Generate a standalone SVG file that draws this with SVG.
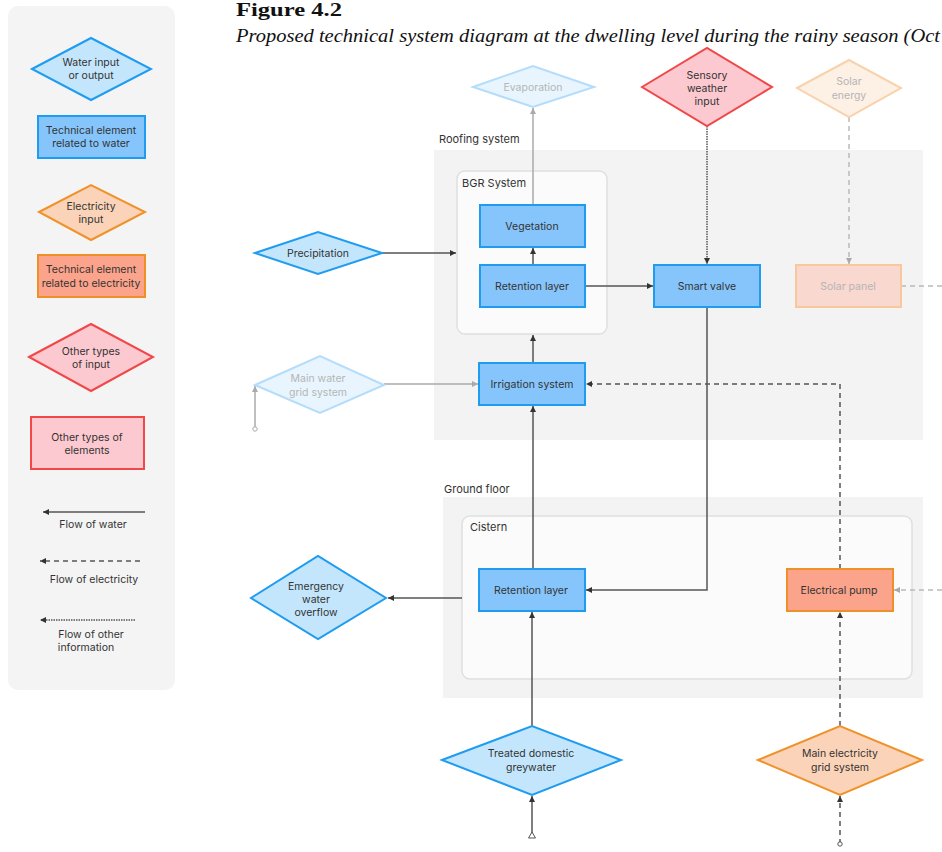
<svg xmlns="http://www.w3.org/2000/svg" width="942" height="852" viewBox="0 0 942 852">
<style>
text{font-family:Inter,"Noto Sans","Liberation Sans",sans-serif;font-size:10.5px;fill:#333}
.c{text-anchor:middle}
.fade{fill:#b5b5b5}
.lbl{font-size:11px;fill:#333}
.wd{fill:#c3e6fc;stroke:#1f9cf0;stroke-width:2}
.wr{fill:#86c5fb;stroke:#1f9cf0;stroke-width:2}
.ed{fill:#fbd3b8;stroke:#ef922a;stroke-width:2}
.er{fill:#fba38b;stroke:#ef8f28;stroke-width:2}
.od{fill:#fdc9d0;stroke:#f04848;stroke-width:2}
.fwd{fill:#e8f5fe;stroke:#b3ddfa;stroke-width:2}
.fed{fill:#fdf0e5;stroke:#f9d2ac;stroke-width:2}
.fer{fill:#f9d8d0;stroke:#f8c79c;stroke-width:2}
.w{fill:none;stroke:#555;stroke-width:1.5}
.wf{fill:none;stroke:#aaa;stroke-width:1.5}
.e{fill:none;stroke:#555;stroke-width:1.5;stroke-dasharray:5 4}
.ef{fill:none;stroke:#bbb;stroke-width:1.5;stroke-dasharray:5 4}
.i{fill:none;stroke:#555;stroke-width:1.5;stroke-dasharray:1.5 1}
</style>
<defs>
<marker id="a" markerUnits="userSpaceOnUse" markerWidth="8" markerHeight="8" refX="6" refY="3" orient="auto"><path d="M0,0 L6,3 L0,6 z" fill="#333"/></marker>
<marker id="af" markerUnits="userSpaceOnUse" markerWidth="8" markerHeight="8" refX="6" refY="3" orient="auto"><path d="M0,0 L6,3 L0,6 z" fill="#aaa"/></marker>
<marker id="tri" markerUnits="userSpaceOnUse" markerWidth="10" markerHeight="10" refX="1" refY="4" orient="auto"><path d="M1,0.5 L7,4 L1,7.5 z" fill="#fff" stroke="#555" stroke-width="1"/></marker>
<marker id="dot" markerUnits="userSpaceOnUse" markerWidth="8" markerHeight="8" refX="4" refY="4"><circle cx="4" cy="4" r="2.2" fill="#fff" stroke="#555" stroke-width="1"/></marker>
<marker id="dotf" markerUnits="userSpaceOnUse" markerWidth="8" markerHeight="8" refX="4" refY="4"><circle cx="4" cy="4" r="2.2" fill="#fff" stroke="#aaa" stroke-width="1"/></marker>
</defs>
<rect width="942" height="852" fill="#fff"/>

<g id="title">
<text x="236" y="16" textLength="106" lengthAdjust="spacingAndGlyphs" style="font-family:'Liberation Serif',serif;font-weight:bold;font-size:18px;fill:#111">Figure 4.2</text>
<text x="236" y="42" textLength="704" lengthAdjust="spacingAndGlyphs" style="font-family:'Liberation Serif',serif;font-style:italic;font-size:18px;fill:#111">Proposed technical system diagram at the dwelling level during the rainy season (Oct</text>
</g>

<g id="legend">
<rect x="8" y="6" width="167" height="684" rx="10" fill="#f4f4f4"/>
<polygon class="wd" points="32,69 91,38 151,69 91,100"/>
<text class="c" x="91" y="66">Water input</text><text class="c" x="91" y="79">or output</text>
<rect class="wr" x="38" y="116" width="107" height="42"/>
<text class="c" x="91" y="134">Technical element</text><text class="c" x="91" y="147">related to water</text>
<polygon class="ed" points="39,212 91,185 145,212 91,240"/>
<text class="c" x="91" y="210">Electricity</text><text class="c" x="91" y="223">input</text>
<rect class="er" x="38" y="255" width="107" height="42"/>
<text class="c" x="91" y="273">Technical element</text><text class="c" x="91" y="287">related to electricity</text>
<polygon class="od" points="29,357 91,324 153,357 91,391"/>
<text class="c" x="91" y="355">Other types</text><text class="c" x="91" y="368">of input</text>
<rect class="od" x="31" y="417" width="113" height="52"/>
<text class="c" x="87" y="441">Other types of</text><text class="c" x="87" y="454">elements</text>
<line class="w" x1="145" y1="512" x2="43" y2="512" marker-end="url(#a)"/>
<text class="c" x="93" y="528">Flow of water</text>
<line class="e" x1="140" y1="561" x2="40" y2="561" marker-end="url(#a)"/>
<text class="c" x="94" y="583">Flow of electricity</text>
<line class="i" x1="135" y1="620" x2="40" y2="620" marker-end="url(#a)"/>
<text class="c" x="91" y="638">Flow of other</text><text class="c" x="86" y="651">information</text>
</g>

<g id="roofing-system">
<rect x="434" y="150" width="489" height="290" fill="#f3f3f3"/>
<text class="lbl" x="439" y="143">Roofing system</text>
</g>
<g id="bgr-system">
<rect x="457" y="171" width="150" height="163" rx="8" fill="#fbfbfb" stroke="#e0e0e0" stroke-width="1.5"/>
<text class="lbl" x="462" y="187">BGR System</text>
</g>
<g id="ground-floor">
<rect x="443" y="497" width="480" height="201" fill="#f3f3f3"/>
<text class="lbl" x="444" y="493">Ground floor</text>
</g>
<g id="cistern">
<rect x="462" y="516" width="450" height="163" rx="8" fill="#fbfbfb" stroke="#e0e0e0" stroke-width="1.5"/>
<text class="lbl" x="470" y="531">Cistern</text>
</g>

<g id="connectors">
<line class="wf" x1="533" y1="205" x2="533" y2="108" marker-end="url(#af)"/>
<line class="i" x1="707" y1="126" x2="707" y2="264" marker-end="url(#a)"/>
<line class="ef" x1="849" y1="117" x2="849" y2="264" marker-end="url(#af)"/>
<line class="ef" x1="901" y1="286" x2="942" y2="286"/>
<line class="w" x1="382" y1="253" x2="456" y2="253" marker-end="url(#a)"/>
<line class="w" x1="533" y1="265" x2="533" y2="248" marker-end="url(#a)"/>
<line class="w" x1="585" y1="286" x2="653" y2="286" marker-end="url(#a)"/>
<polyline class="w" points="707,307 707,590 586,590" marker-end="url(#a)"/>
<line class="w" x1="533" y1="363" x2="533" y2="335" marker-end="url(#a)"/>
<line class="wf" x1="384" y1="384" x2="478" y2="384" marker-end="url(#af)"/>
<line class="wf" x1="255" y1="429" x2="255" y2="386" marker-start="url(#dotf)" marker-end="url(#af)"/>
<polyline class="e" points="840,569 840,384 586,384" marker-end="url(#a)"/>
<line class="w" x1="533" y1="569" x2="533" y2="406" marker-end="url(#a)"/>
<line class="w" x1="462" y1="598" x2="388" y2="598" marker-end="url(#a)"/>
<line class="w" x1="532" y1="726" x2="532" y2="612" marker-end="url(#a)"/>
<line class="w" x1="532" y1="838" x2="532" y2="796" marker-start="url(#tri)" marker-end="url(#a)"/>
<line class="e" x1="840" y1="726" x2="840" y2="612" marker-end="url(#a)"/>
<line class="e" x1="840" y1="844" x2="840" y2="796" marker-start="url(#dot)" marker-end="url(#a)"/>
<line class="ef" x1="942" y1="590" x2="894" y2="590" marker-end="url(#af)"/>
</g>

<g id="evaporation">
<polygon class="fwd" points="473,87 533,66 594,87 533,107"/>
<text class="c fade" x="533" y="91">Evaporation</text>
</g>
<g id="sensory-weather-input">
<polygon class="od" points="642,87 707,48 772,87 707,126"/>
<text class="c" x="707" y="79">Sensory</text><text class="c" x="707" y="92">weather</text><text class="c" x="707" y="105">input</text>
</g>
<g id="solar-energy">
<polygon class="fed" points="797,88 849,60 901,88 849,117"/>
<text class="c fade" x="849" y="85">Solar</text><text class="c fade" x="849" y="99">energy</text>
</g>
<g id="precipitation">
<polygon class="wd" points="255,253 318,232 382,253 318,274"/>
<text class="c" x="318" y="257">Precipitation</text>
</g>
<g id="vegetation">
<rect class="wr" x="480" y="205" width="105" height="42"/>
<text class="c" x="532" y="230">Vegetation</text>
</g>
<g id="retention-layer-roof">
<rect class="wr" x="480" y="265" width="105" height="42"/>
<text class="c" x="532" y="290">Retention layer</text>
</g>
<g id="smart-valve">
<rect class="wr" x="654" y="265" width="106" height="42"/>
<text class="c" x="707" y="290">Smart valve</text>
</g>
<g id="solar-panel">
<rect class="fer" x="796" y="265" width="105" height="42"/>
<text class="c fade" x="848" y="290">Solar panel</text>
</g>
<g id="main-water-grid">
<polygon class="fwd" points="255,385 320,356 384,385 320,413"/>
<text class="c fade" x="318" y="382">Main water</text><text class="c fade" x="318" y="396">grid system</text>
</g>
<g id="irrigation-system">
<rect class="wr" x="479" y="363" width="106" height="42"/>
<text class="c" x="532" y="388">Irrigation system</text>
</g>
<g id="emergency-overflow">
<polygon class="wd" points="251,598 318,556 386,598 318,639"/>
<text class="c" x="316" y="590">Emergency</text><text class="c" x="316" y="603">water</text><text class="c" x="316" y="616">overflow</text>
</g>
<g id="retention-layer-cistern">
<rect class="wr" x="479" y="569" width="106" height="42"/>
<text class="c" x="531" y="594">Retention layer</text>
</g>
<g id="electrical-pump">
<rect class="er" x="787" y="569" width="106" height="42"/>
<text class="c" x="839" y="594">Electrical pump</text>
</g>
<g id="treated-greywater">
<polygon class="wd" points="442,760 532,726 621,760 532,795"/>
<text class="c" x="531" y="757">Treated domestic</text><text class="c" x="531" y="771">greywater</text>
</g>
<g id="main-electricity-grid">
<polygon class="ed" points="758,760 840,726 922,760 840,795"/>
<text class="c" x="840" y="757">Main electricity</text><text class="c" x="840" y="771">grid system</text>
</g>
</svg>
